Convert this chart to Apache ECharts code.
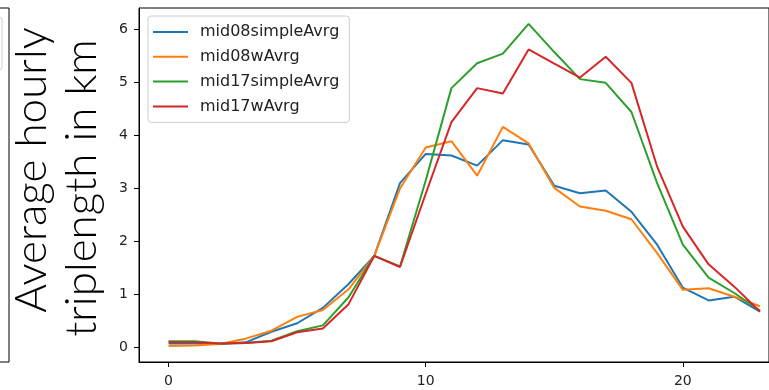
<!DOCTYPE html>
<html>
<head>
<meta charset="utf-8">
<script src="https://cdn.jsdelivr.net/npm/echarts@6/dist/echarts.min.js"></script>
<style>
    html, body { margin: 0; padding: 0; background: #fff; }
    #chart { width: 769px; height: 390px; }
</style>
</head>
<body>
<div id="chart"></div>
<script>
// Hours of the day and the four averaged series
const hours = [0, 1, 2, 3, 4, 5, 6, 7, 8, 9, 10, 11, 12, 13, 14, 15, 16, 17, 18, 19, 20, 21, 22, 23];
const mid08simpleAvrg = [0.08, 0.08, 0.07, 0.10, 0.30, 0.46, 0.75, 1.20, 1.73, 3.10, 3.65, 3.62, 3.43, 3.91, 3.83, 3.05, 2.91, 2.96, 2.56, 1.94, 1.13, 0.89, 0.96, 0.68];
const mid08wAvrg = [0.03, 0.04, 0.07, 0.17, 0.32, 0.58, 0.71, 1.10, 1.73, 3.00, 3.77, 3.89, 3.24, 4.16, 3.85, 3.01, 2.66, 2.58, 2.42, 1.78, 1.09, 1.12, 0.96, 0.78];
const mid17simpleAvrg = [0.12, 0.12, 0.08, 0.09, 0.13, 0.31, 0.42, 0.95, 1.73, 1.53, 3.15, 4.89, 5.36, 5.54, 6.10, 5.57, 5.06, 4.99, 4.44, 3.10, 1.94, 1.32, 1.03, 0.70];
const mid17wAvrg = [0.10, 0.10, 0.08, 0.09, 0.12, 0.29, 0.36, 0.82, 1.73, 1.52, 2.90, 4.25, 4.89, 4.79, 5.62, 5.35, 5.09, 5.48, 4.99, 3.41, 2.28, 1.57, 1.15, 0.68];
const xTicks = [0, 10, 20];
const yTicks = [0, 1, 2, 3, 4, 5, 6];

const seriesNames = ['mid08simpleAvrg', 'mid08wAvrg', 'mid17simpleAvrg', 'mid17wAvrg'];
const seriesData = [mid08simpleAvrg, mid08wAvrg, mid17simpleAvrg, mid17wAvrg];
const colors = ['#1f77b4', '#ff7f0e', '#2ca02c', '#d62728'];

const chart = echarts.init(document.getElementById('chart'));

const option = {
    animation: false,
    color: colors,
    grid: {
        left: 139,
        right: 0,
        top: 8,
        bottom: 28,
        show: true,
        borderColor: '#000',
        borderWidth: 1
    },
    xAxis: {
        type: 'value',
        min: -1.15,
        max: 23.35,
        axisLine: { show: true, onZero: false, lineStyle: { color: '#000', width: 1 } },
        axisTick: { show: true, length: 5, customValues: xTicks, lineStyle: { color: '#000' } },
        axisLabel: {
            customValues: xTicks,
            color: '#222',
            fontSize: 14,
            fontFamily: 'DejaVu Sans',
            margin: 12
        },
        splitLine: { show: false }
    },
    yAxis: {
        type: 'value',
        min: -0.27,
        max: 6.4,
        axisLine: { show: true, onZero: false, lineStyle: { color: '#000', width: 1 } },
        axisTick: { show: true, length: 5, customValues: yTicks, lineStyle: { color: '#000' } },
        axisLabel: {
            customValues: yTicks,
            color: '#222',
            fontSize: 14,
            fontFamily: 'DejaVu Sans',
            margin: 11
        },
        splitLine: { show: false }
    },
    legend: {
        orient: 'vertical',
        left: 148,
        top: 16,
        padding: [8, 10, 8, 5],
        icon: 'rect',
        itemWidth: 35,
        itemHeight: 2,
        itemGap: 8.8,
        backgroundColor: 'rgba(255,255,255,0.8)',
        borderColor: '#ccc',
        borderWidth: 1,
        borderRadius: 3,
        textStyle: {
            color: '#222',
            fontSize: 16,
            fontFamily: 'DejaVu Sans',
            padding: [0, 0, 0, 7]
        },
        data: seriesNames
    },
    series: seriesNames.map((name, i) => ({
        name: name,
        type: 'line',
        symbol: 'none',
        data: hours.map((h, j) => [h, seriesData[i][j]]),
        lineStyle: { width: 2, color: colors[i] },
        itemStyle: { color: colors[i] }
    })),
    graphic: [
        // edge of the neighbouring subplot on the left
        { type: 'polyline', shape: { points: [[0, 8], [9, 8], [9, 362], [0, 362]] }, style: { fill: null, stroke: '#000', lineWidth: 1 } },
        { type: 'rect', shape: { x: -40, y: 17, width: 42, height: 53, r: 3 }, style: { fill: '#fff', stroke: '#ccc', lineWidth: 1 } },
        // y axis title, two lines
        {
            type: 'text', x: 32, y: 170, rotation: Math.PI / 2,
            style: { text: 'Average hourly', fontSize: 44, fontFamily: 'Lato', fontWeight: 300, fill: '#000', align: 'center', verticalAlign: 'middle' }
        },
        {
            type: 'text', x: 82, y: 188, rotation: Math.PI / 2,
            style: { text: 'triplength in km', fontSize: 44, fontFamily: 'Lato', fontWeight: 300, fill: '#000', align: 'center', verticalAlign: 'middle' }
        }
    ]
};

chart.setOption(option);
</script>
</body>
</html>
